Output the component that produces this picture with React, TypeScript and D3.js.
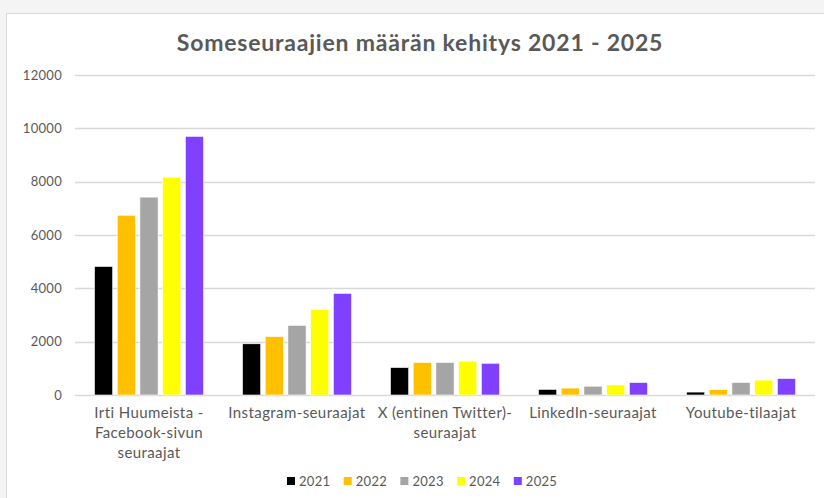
import React, { useEffect, useRef } from "react";
import * as d3 from "d3";

const categories = [
  ["Irti Huumeista -", "Facebook-sivun", "seuraajat"],
  ["Instagram-seuraajat"],
  ["X (entinen Twitter)-", "seuraajat"],
  ["LinkedIn-seuraajat"],
  ["Youtube-tilaajat"],
];
const years = ["2021", "2022", "2023", "2024", "2025"];
const colors = ["#000000", "#FFC000", "#A5A5A5", "#FFFF00", "#8040FF"];
const v2021 = [4820, 1920, 1030, 210, 110];
const v2022 = [6740, 2190, 1220, 260, 200];
const v2023 = [7420, 2610, 1220, 330, 470];
const v2024 = [8170, 3210, 1270, 380, 560];
const v2025 = [9700, 3810, 1190, 470, 620];
const series = [v2021, v2022, v2023, v2024, v2025];
const yTicks = [0, 2000, 4000, 6000, 8000, 10000, 12000];

const W = 824;
const H = 498;
const FONT = "Lato, 'Open Sans', sans-serif";

export default function App() {
  const ref = useRef<SVGSVGElement>(null);

  useEffect(() => {
    const svg = d3.select(ref.current);
    svg.selectAll("*").remove();

    // page background + chart frame
    svg.append("rect").attr("width", W).attr("height", H).attr("fill", "#f4f4f4");
    svg.append("rect")
      .attr("x", 6.5).attr("y", 13.5)
      .attr("width", W + 10).attr("height", H + 10)
      .attr("fill", "#fff").attr("stroke", "#d9d9d9");

    svg.append("text")
      .attr("x", 420).attr("y", 51)
      .attr("text-anchor", "middle")
      .attr("font-family", FONT).attr("font-weight", 700)
      .attr("font-size", 23).attr("letter-spacing", 0.8).attr("fill", "#595959")
      .text("Someseuraajien määrän kehitys 2021 - 2025");

    const x0 = d3.scaleBand<number>()
      .domain(d3.range(categories.length))
      .range([75, 815]);
    const x1 = d3.scaleBand<string>()
      .domain(years)
      .range([19.5, x0.bandwidth() - 19.5])
      .paddingInner(0.2);
    const y = d3.scaleLinear().domain([0, 12000]).range([395, 75]);

    const grid = svg.append("g");
    grid.selectAll("line").data(yTicks).join("line")
      .attr("x1", 75).attr("x2", 815)
      .attr("y1", (d) => Math.round(y(d)) + 0.5)
      .attr("y2", (d) => Math.round(y(d)) + 0.5)
      .attr("stroke", "#d9d9d9").attr("stroke-width", 1.5);

    svg.append("g").selectAll("text").data(yTicks).join("text")
      .attr("x", 62).attr("y", (d) => y(d) + 4.5)
      .attr("text-anchor", "end")
      .attr("font-family", FONT).attr("font-size", 13).attr("letter-spacing", 0.3)
      .attr("fill", "#595959")
      .text((d) => String(d));

    const groups = svg.append("g").selectAll("g").data(categories).join("g")
      .attr("transform", (_, i) => `translate(${x0(i)},0)`);
    groups.selectAll("rect")
      .data((_, i) => years.map((yr, k) => ({ yr, k, v: series[k][i] })))
      .join("rect")
      .attr("x", (d) => x1(d.yr)!)
      .attr("width", x1.bandwidth())
      .attr("y", (d) => y(d.v))
      .attr("height", (d) => y(0) - y(d.v))
      .attr("fill", (d) => colors[d.k])
      .attr("stroke", "#ffffff").attr("stroke-width", 0.6);

    const labels = svg.append("g").selectAll("text").data(categories).join("text")
      .attr("text-anchor", "middle")
      .attr("font-family", FONT).attr("font-size", 15).attr("letter-spacing", 0.4)
      .attr("fill", "#595959");
    labels.each(function (lines, i) {
      const cx = x0(i)! + x0.bandwidth() / 2;
      d3.select(this).selectAll("tspan").data(lines).join("tspan")
        .attr("x", cx).attr("y", (_, j) => 418 + j * 20)
        .text((d) => d);
    });

    const legend = svg.append("g").selectAll("g").data(years).join("g")
      .attr("transform", (_, i) => `translate(${287 + i * 56.7},0)`);
    legend.append("rect")
      .attr("x", 0).attr("y", 477).attr("width", 8).attr("height", 8)
      .attr("fill", (_, i) => colors[i]);
    legend.append("text")
      .attr("x", 12).attr("y", 486)
      .attr("font-family", FONT).attr("font-size", 13).attr("letter-spacing", 0.3)
      .attr("fill", "#595959")
      .text((d) => d);
  }, []);

  return (
    <svg
      ref={ref}
      width={W}
      height={H}
      style={{ position: "absolute", left: 0, top: 0, display: "block" }}
    />
  );
}
